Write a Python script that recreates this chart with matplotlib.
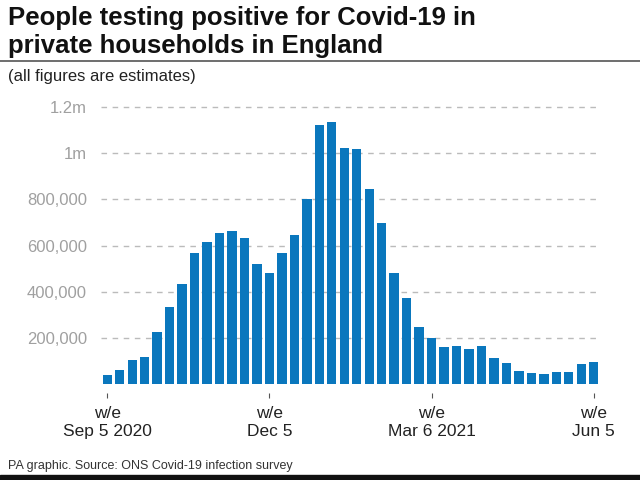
import matplotlib
matplotlib.use("Agg")
import matplotlib.pyplot as plt
from matplotlib.patches import Rectangle
from matplotlib.lines import Line2D
from matplotlib.ticker import FuncFormatter

blue = '#0a77bd'
gray = '#a0a0a0'

# weekly estimates, w/e Sep 5 2020 .. w/e Jun 5 2021
positives = [38000, 58000, 103000, 116000, 223000, 335000, 432000, 567000,
             617000, 654000, 664000, 632000, 520000, 481000, 567000, 645000,
             800000, 1122000, 1135000, 1023000, 1017000, 846000, 696000, 481000,
             372000, 248000, 200000, 159000, 162000, 149000, 162000, 113000,
             90000, 54000, 46000, 41000, 49000, 49000, 86000, 96000]
tick_weeks = [0, 13, 26, 39]
tick_labels = ["w/e\nSep 5 2020", "w/e\nDec 5", "w/e\nMar 6 2021", "w/e\nJun 5"]
y_ticks = [200000, 400000, 600000, 800000, 1000000, 1200000]

plt.rcParams['font.family'] = ['Liberation Sans', 'DejaVu Sans']

fig = plt.figure(figsize=(6.4, 4.8), dpi=100)
ax = fig.add_axes([101/640, 1 - 383.7/480, 499/640, 276.4/480])

weeks = list(range(len(positives)))
ax.bar(weeks, positives, width=0.75, color=blue, zorder=2)

ax.set_xlim(-0.5, len(positives) - 0.5)
ax.set_ylim(0, 1200000)

def fmt(y, pos):
    if y >= 1000000:
        return ("%.1fm" % (y / 1e6)).replace(".0m", "m")
    return "{:,.0f}".format(y)

ax.set_yticks(y_ticks)
ax.yaxis.set_major_formatter(FuncFormatter(fmt))
ax.tick_params(axis='y', length=0, pad=10, labelsize=12, labelcolor=gray)
ax.grid(axis='y', color='#bbbbbb', linestyle=(0, (4, 4)), linewidth=1, zorder=0)
for gl in ax.get_ygridlines():
    gl.set_clip_on(False)

ax.set_xticks(tick_weeks)
ax.set_xticklabels(tick_labels, fontsize=12.5, color='#222222', linespacing=1.25)
ax.tick_params(axis='x', length=0, pad=16)
ax.vlines(tick_weeks, -0.053, -0.035, transform=ax.get_xaxis_transform(),
          color='#555555', linewidth=0.8, clip_on=False)

for spine in ax.spines.values():
    spine.set_visible(False)

fig.text(8/640, 1 - 25/480, "People testing positive for Covid-19 in",
         fontsize=18.5, fontweight='bold', va='baseline', ha='left', color='#111111')
fig.text(8/640, 1 - 53/480, "private households in England",
         fontsize=18.5, fontweight='bold', va='baseline', ha='left', color='#111111')
fig.add_artist(Line2D([0, 1], [1 - 61/480, 1 - 61/480], color='#555555', linewidth=1.2))
fig.text(8/640, 1 - 77/480, "(all figures are estimates)", fontsize=12, va='center',
         ha='left', color='#222222')
fig.text(8/640, 1 - 466/480, "PA graphic. Source: ONS Covid-19 infection survey", fontsize=9,
         va='center', ha='left', color='#333333')
fig.add_artist(Rectangle((0, 0), 1, 5/480, transform=fig.transFigure, color='#111111'))

fig.savefig("out.png", dpi=100)
